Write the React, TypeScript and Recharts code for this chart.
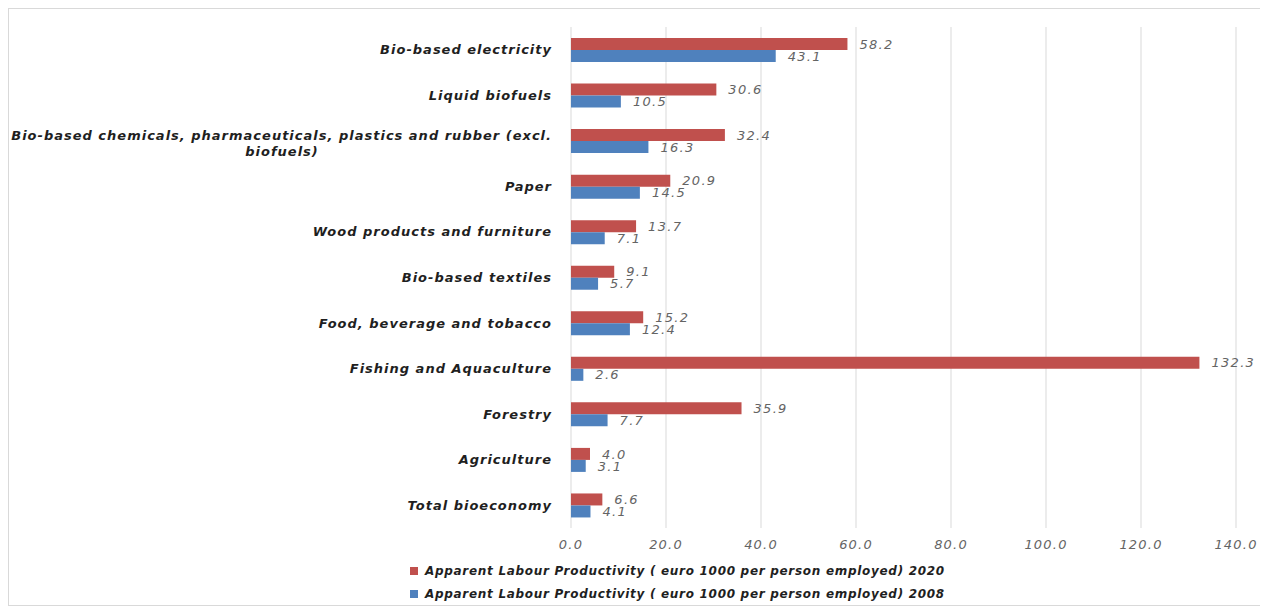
import React from 'react';
import { BarChart, Bar, XAxis, YAxis, CartesianGrid, Legend, LabelList } from 'recharts';

const categories = [
  'Bio-based electricity',
  'Liquid biofuels',
  'Bio-based chemicals, pharmaceuticals, plastics and rubber (excl.|biofuels)',
  'Paper',
  'Wood products and furniture',
  'Bio-based textiles',
  'Food, beverage and tobacco',
  'Fishing and Aquaculture',
  'Forestry',
  'Agriculture',
  'Total bioeconomy',
];
const values2020 = [58.2, 30.6, 32.4, 20.9, 13.7, 9.1, 15.2, 132.3, 35.9, 4.0, 6.6];
const values2008 = [43.1, 10.5, 16.3, 14.5, 7.1, 5.7, 12.4, 2.6, 7.7, 3.1, 4.1];
const xTicks = [0, 20, 40, 60, 80, 100, 120, 140];
const series2020Name = 'Apparent Labour Productivity ( euro 1000 per person employed) 2020';
const series2008Name = 'Apparent Labour Productivity ( euro 1000 per person employed) 2008';
const legendOrder = [series2020Name, series2008Name];

const data = categories.map((c, i) => ({ name: c, v2020: values2020[i], v2008: values2008[i] }));

const RED = '#C0504D';
const BLUE = '#4F81BD';
const FONT = '"DejaVu Sans", Verdana, sans-serif';

const CategoryTick = (props: any) => {
  const { x, y, payload } = props;
  const lines = String(payload.value).split('|');
  const common = {
    fontFamily: FONT,
    fontSize: 13,
    fontWeight: 700,
    fontStyle: 'italic',
    fill: '#1f1f1f',
    letterSpacing: 1,
  } as any;
  if (lines.length === 1) {
    return (
      <text x={x} y={y} dy={4.5} textAnchor="end" {...common}>
        {lines[0]}
      </text>
    );
  }
  return (
    <g>
      <text x={x} y={y} dy={-0.5} textAnchor="end" {...common}>
        {lines[0]}
      </text>
      <text x={x - 270} y={y} dy={15.5} textAnchor="middle" {...common}>
        {lines[1]}
      </text>
    </g>
  );
};

const LegendContent = (props: any) => {
  const items = [...(props.payload || [])].sort(
    (a: any, b: any) => legendOrder.indexOf(a.value) - legendOrder.indexOf(b.value)
  );
  return (
    <div style={{ paddingLeft: 401, paddingTop: 2 }}>
      {items.map((it: any, i: number) => (
        <div key={i} style={{ display: 'flex', alignItems: 'center', height: 22.5 }}>
          <span style={{ display: 'inline-block', width: 8, height: 8, background: it.color, marginRight: 7 }} />
          <span
            style={{
              fontFamily: FONT,
              fontSize: 12,
              fontWeight: 700,
              fontStyle: 'italic',
              color: '#1f1f1f',
              letterSpacing: 0.7,
              whiteSpace: 'nowrap',
            }}
          >
            {it.value}
          </span>
        </div>
      ))}
    </div>
  );
};

const fmt = (v: any) => Number(v).toFixed(1);
const labelStyle = { fontFamily: FONT, fontSize: 13, fontStyle: 'italic', fill: '#646464', letterSpacing: 1.3 } as any;

export default function App() {
  return (
    <div style={{ width: 1252, height: 596, border: '1px solid #d9d9d9', background: '#fff' }}>
      <BarChart
        width={1252}
        height={596}
        data={data}
        layout="vertical"
        margin={{ top: 18, right: 25, bottom: 0, left: 0 }}
        barGap={0}
      >
        <CartesianGrid horizontal={false} stroke="#d9d9d9" />
        <XAxis
          type="number"
          domain={[0, 140]}
          ticks={xTicks}
          interval={0}
          axisLine={false}
          tickLine={false}
          tickMargin={6}
          height={30}
          tickFormatter={fmt}
          tick={{ fontFamily: FONT, fontSize: 13, fontStyle: 'italic', fill: '#646464', letterSpacing: 1.2 }}
        />
        <YAxis
          type="category"
          dataKey="name"
          width={562}
          axisLine={false}
          tickLine={false}
          tickSize={0}
          tickMargin={19}
          interval={0}
          tick={<CategoryTick />}
        />
        <Legend
          layout="horizontal"
          verticalAlign="bottom"
          align="left"
          height={47}
          content={<LegendContent />}
        />
        <Bar dataKey="v2020" name={series2020Name} fill={RED} barSize={12} isAnimationActive={false}>
          <LabelList dataKey="v2020" position="right" offset={12} formatter={fmt} style={labelStyle} />
        </Bar>
        <Bar dataKey="v2008" name={series2008Name} fill={BLUE} barSize={12} isAnimationActive={false}>
          <LabelList dataKey="v2008" position="right" offset={12} formatter={fmt} style={labelStyle} />
        </Bar>
      </BarChart>
    </div>
  );
}
